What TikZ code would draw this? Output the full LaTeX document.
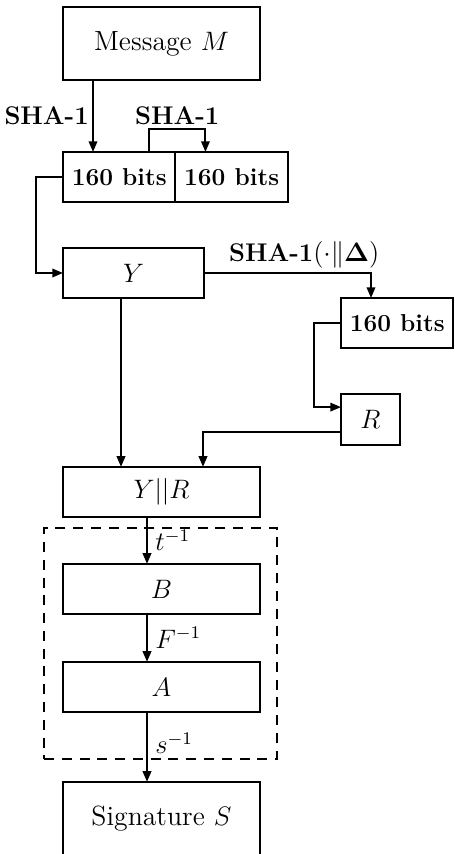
\documentclass[tikz,border=0pt]{standalone}
\usepackage{amsmath}
\usepackage{tikz}
\usetikzlibrary{positioning,arrows.meta,calc,fit}
\newcommand{\hashdelta}{\textbf{SHA-1}$(\cdot\|\mathbf{\Delta})$}
\newcommand{\bitsl}{{\fontsize{11}{13}\selectfont\bfseries 160 bits}}

\begin{document}
\begin{tikzpicture}[
  font=\fontsize{11.5}{14}\selectfont,
  blk/.style={draw,line width=0.9pt,minimum height=22.5pt,inner sep=1pt,outer sep=0pt,align=center},
  wide/.style={blk,minimum width=88.65pt},
  half/.style={blk,minimum width=50.6pt},
  term/.style={wide,minimum height=32.85pt,font=\fontsize{12.5}{15}\selectfont},
  arr/.style={-{Triangle[length=4.8pt,width=3.8pt]},line width=0.9pt},
  lbl/.style={font=\fontsize{11.5}{14}\selectfont\bfseries,inner sep=1.5pt},
  frame/.style={draw,line width=0.9pt,dash pattern=on 4.5pt off 3.5pt,inner sep=0pt,outer sep=0pt}
]
\useasboundingbox (-28.35pt,3.15pt) rectangle (175.95pt,-381.15pt);

% main column
\node[term,anchor=north west] (msg) at (0,0) {Message $M$};
\node[half,below right=32.4pt and 0pt of msg.south west] (bitsa) {\bitsl};
\node[half,right=0pt of bitsa] (bitsb) {\bitsl};
\node[blk,minimum width=63.45pt,below right=20.7pt and 0pt of bitsa.south west] (ybox) {$Y$};

% side branch
\node[half,below right=0pt and 61.65pt of ybox.south east] (bitsc) {\bitsl};
\node[blk,minimum width=26.55pt,minimum height=23pt,below right=20.7pt and 0pt of bitsc.south west] (rbox) {$R$};

% lower column
\node[wide,below right=76pt and 0pt of ybox.south west] (yr) {$Y||R$};
\node[wide,below right=21.15pt and 0pt of yr.south west] (bbox) {$B$};
\node[wide,below right=21.6pt and 0pt of bbox.south west] (abox) {$A$};
\node[term,below right=31.5pt and 0pt of abox.south west] (sig) {Signature $S$};

% dashed group
\coordinate (gnw) at ($(bbox.north west)+(-8.55pt,16.2pt)$);
\coordinate (gse) at ($(abox.south east)+(7.65pt,-21.15pt)$);
\node[frame,fit=(gnw)(gse)] (grp) {};

% connector end points
\coordinate (msgout) at ($(msg.south west)+(13.5pt,0)$);
\coordinate (bitsain) at ($(bitsa.north west)+(13.5pt,0)$);
\coordinate (loopout) at ($(bitsa.north west)+(38.7pt,0)$);
\coordinate (loopa) at ($(loopout)+(0,10.35pt)$);
\coordinate (bitsbin) at ($(bitsb.north west)+(13.5pt,0)$);
\coordinate (loopb) at (loopa -| bitsbin);
\coordinate (bitscin) at ($(bitsc.north west)+(13.5pt,0)$);
\coordinate (turnc) at (ybox.east -| bitscin);
\coordinate (rin) at ($(rbox.west)+(0,5.6pt)$);
\coordinate (rout) at ($(rbox.west)+(0,-5.6pt)$);
\coordinate (yrinr) at ($(yr.north west)+(63pt,0)$);
\coordinate (yout) at ($(ybox.south west)+(26.1pt,0)$);
\coordinate (yriny) at ($(yr.north west)+(26.1pt,0)$);

\draw[arr] (msgout) -- node[lbl,left]{SHA-1} (bitsain);
\draw[arr] (loopout) -- (loopa) -- node[lbl,above]{SHA-1} (loopb) -- (bitsbin);
\draw[arr] (bitsa.west) -- ++(-12.15pt,0) |- (ybox.west);
\draw[arr] (ybox.east) -- node[lbl,pos=0.6,above]{\hashdelta} (turnc) -- (bitscin);
\draw[arr] (bitsc.west) -- ++(-12.15pt,0) |- (rin);
\draw[arr] (rout) -| (yrinr);
\draw[arr] (yout) -- (yriny);
\draw[arr] ($(yr.south west)+(37.8pt,0)$) -- node[right]{$t^{-1}$} ($(bbox.north west)+(37.8pt,0)$);
\draw[arr] ($(bbox.south west)+(37.8pt,0)$) -- node[right]{$F^{-1}$} ($(abox.north west)+(37.8pt,0)$);
\draw[arr] ($(abox.south west)+(37.8pt,0)$) -- node[right,pos=0.45]{$s^{-1}$} ($(sig.north west)+(37.8pt,0)$);
\end{tikzpicture}
\end{document}
